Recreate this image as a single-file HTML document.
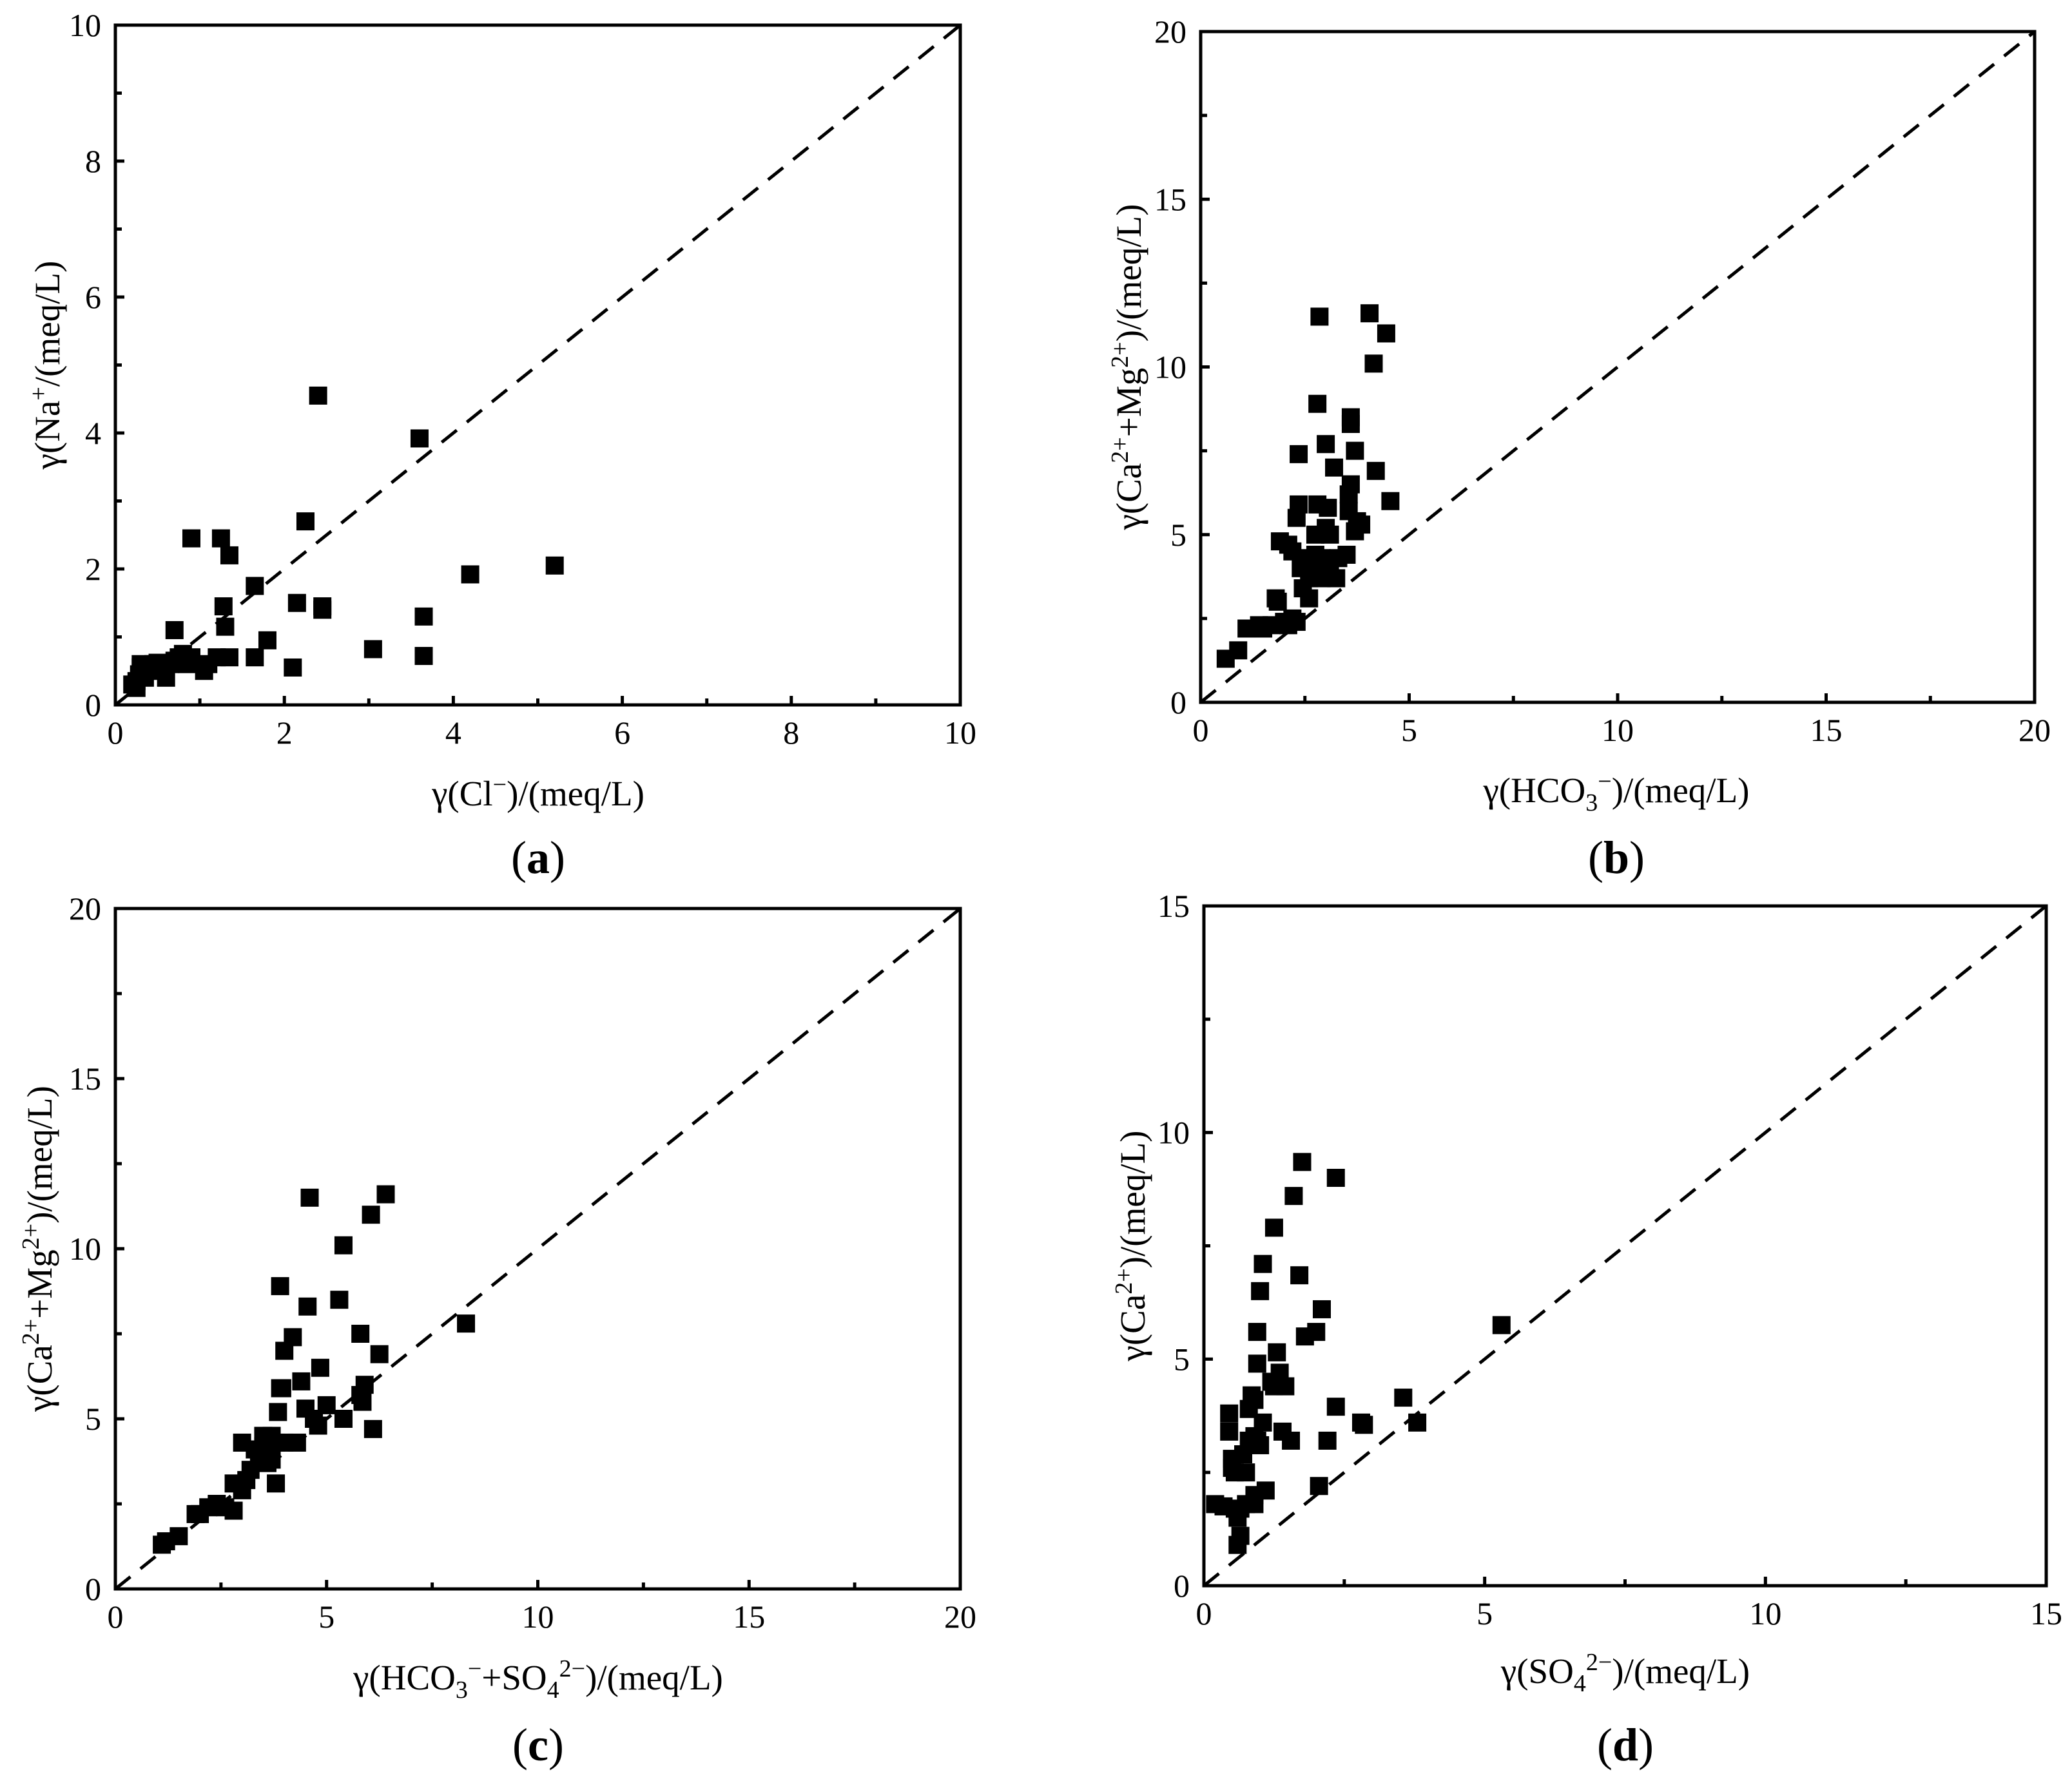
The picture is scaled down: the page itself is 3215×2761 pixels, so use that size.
<!DOCTYPE html>
<html><head><meta charset="utf-8"><style>
html,body{margin:0;padding:0;background:#fff;}
svg{display:block;font-family:"Liberation Serif",serif;}
</style></head><body>
<svg id="fig" width="3215" height="2761" viewBox="0 0 3215 2761" xmlns="http://www.w3.org/2000/svg">
<rect width="3215" height="2761" fill="#fff"/>
</svg>
<script>
const aX=[0.25,0.25,0.28,0.3,0.35,0.4,0.45,0.5,0.55,0.6,0.65,0.7,0.7,0.75,0.8,0.85,0.9,0.9,1.05,1.1,1.2,1.25,1.28,1.3,1.35,1.35,1.65,1.65,1.8,2.1,2.15,2.25,2.4,2.45,2.45,3.05,3.6,3.65,3.65,4.2,5.2,0.2,0.3,0.5,0.8];
const aY=[0.25,0.35,0.45,0.55,0.4,0.5,0.6,0.55,0.6,0.4,0.6,0.65,1.1,0.7,0.75,0.6,0.7,2.45,0.5,0.6,0.7,2.45,1.45,1.15,2.2,0.7,1.75,0.7,0.95,0.55,1.5,2.7,4.55,1.45,1.4,0.82,3.92,0.72,1.3,1.92,2.05,0.3,0.6,0.62,0.65];
const bX=[0.6,0.9,1.1,1.4,1.5,1.7,1.8,1.85,2.0,2.1,2.2,2.3,1.9,2.1,2.2,2.3,2.35,2.35,2.4,2.45,2.5,2.6,2.6,2.7,2.75,2.75,2.8,2.8,2.85,2.9,2.9,3.0,3.0,3.05,3.1,3.1,3.2,3.25,3.3,3.5,3.55,3.55,3.6,3.6,3.6,3.7,3.7,3.75,3.85,4.05,4.15,4.2,4.45,4.55];
const bY=[1.3,1.55,2.2,2.3,2.2,2.3,3.1,3.0,2.4,2.3,2.5,2.4,4.8,4.7,4.5,5.5,5.9,7.4,4.0,3.4,4.3,3.1,3.7,4.1,4.4,5.0,5.9,8.9,11.5,4.3,3.7,5.2,7.7,5.8,4.0,5.0,7.0,3.7,4.3,4.4,6.2,5.7,8.5,8.3,6.5,7.5,5.1,5.4,5.3,11.6,10.1,6.9,11.0,6.0];
const cX=[1.1,1.2,1.5,1.9,2.0,2.2,2.4,2.6,2.8,2.8,3.0,3.0,3.1,3.2,3.3,3.4,3.5,3.6,3.7,3.8,3.8,3.85,3.9,3.9,3.95,4.0,4.0,4.2,4.3,4.4,4.5,4.55,4.6,4.7,4.8,4.85,5.0,5.3,5.4,5.4,5.8,5.8,5.85,5.9,6.05,6.1,6.25,6.4,8.3,3.5,3.7];
const cY=[1.3,1.4,1.55,2.2,2.2,2.4,2.5,2.4,2.3,3.1,2.9,4.3,3.2,3.5,4.1,3.9,4.2,3.7,4.5,3.1,4.3,5.2,8.9,5.9,5.9,4.3,7.0,7.4,4.3,6.1,5.3,8.3,11.5,5.0,4.8,6.5,5.4,8.5,10.1,5.0,7.5,5.7,5.5,6.0,11.0,4.7,6.9,11.6,7.8,4.5,3.8];
const dX=[0.2,0.35,0.45,0.45,0.5,0.5,0.55,0.55,0.6,0.6,0.65,0.65,0.7,0.75,0.75,0.8,0.8,0.85,0.9,0.9,0.9,0.9,0.95,0.95,0.95,1.0,1.0,1.05,1.05,1.1,1.2,1.25,1.25,1.3,1.35,1.4,1.45,1.55,1.6,1.7,1.75,1.8,2.0,2.05,2.1,2.2,2.35,2.35,2.8,2.85,3.55,3.8,5.3];
const dY=[1.8,1.75,3.8,3.4,2.8,2.6,2.5,1.7,1.5,0.9,1.1,1.7,2.9,2.5,1.8,3.9,3.2,4.2,4.1,3.3,2.0,1.8,5.6,4.9,3.2,6.5,3.1,7.1,3.6,2.1,4.5,4.4,7.9,5.15,4.7,3.4,4.4,3.2,8.6,6.85,9.35,5.5,5.6,2.2,6.1,3.2,9.0,3.95,3.6,3.55,4.15,3.6,5.75];
const aTicks=[0,2,4,6,8,10];
const bTicks=[0,5,10,15,20];
const dTicks=[0,5,10,15];

const NS="http://www.w3.org/2000/svg";
const svg=document.getElementById('fig');
function mk(tag,attrs,parent){const e=document.createElementNS(NS,tag);for(const k in attrs)e.setAttribute(k,attrs[k]);(parent||svg).appendChild(e);return e;}

const panels=[
 {id:'a',L:179,T:39,R:1490,B:1094,max:10,ticks:aTicks,minor:1,xs:aX,ys:aY,
  xt:[['γ(Cl',''],['−','sup'],[')/(meq/L)','']],yt:[['γ(Na',''],['+','sup'],['/(meq/L)','']],
  xtX:835,xtY:1250,ytX:92,lblY:1355},
 {id:'b',L:1863,T:49,R:3157,B:1090,max:20,ticks:bTicks,minor:2.5,xs:bX,ys:bY,
  xt:[['γ(HCO',''],['3','sub'],['−','sup'],[')/(meq/L)','']],yt:[['γ(Ca',''],['2+','sup'],['+Mg',''],['2+','sup'],[')/(meq/L)','']],
  xtX:2508,xtY:1245,ytX:1770,lblY:1355},
 {id:'c',L:179,T:1410,R:1490,B:2466,max:20,ticks:bTicks,minor:2.5,xs:cX,ys:cY,
  xt:[['γ(HCO',''],['3','sub'],['−','sup'],['+SO',''],['4','sub'],['2−','sup'],[')/(meq/L)','']],yt:[['γ(Ca',''],['2+','sup'],['+Mg',''],['2+','sup'],[')/(meq/L)','']],
  xtX:835,xtY:2622,ytX:80,lblY:2732},
 {id:'d',L:1868,T:1406,R:3175,B:2461,max:15,ticks:dTicks,minor:2.5,xs:dX,ys:dY,
  xt:[['γ(SO',''],['4','sub'],['2−','sup'],[')/(meq/L)','']],yt:[['γ(Ca',''],['2+','sup'],[')/(meq/L)','']],
  xtX:2522,xtY:2612,ytX:1776,lblY:2732}
];

function richText(g,parts,attrs){
  const t=mk('text',attrs,g);
  let shift=0;
  for(const [s,k] of parts){
    const ts=mk('tspan',{},t);
    let target=0, fs=null;
    if(k==='sup'){target=-20;fs=38;} else if(k==='sub'){target=13;fs=38;}
    const dy=target-shift; shift=target;
    if(dy!==0) ts.setAttribute('dy',dy);
    if(fs) ts.setAttribute('font-size',fs);
    ts.textContent=s;
  }
  return t;
}

panels.forEach(p=>{
  const g=mk('g',{});
  
  
  const sx=v=>p.L+(v/p.max)*(p.R-p.L);
  const sy=v=>p.B-(v/p.max)*(p.B-p.T);
  const dl=mk('line',{x1:sx(0),y1:sy(0),x2:sx(p.max),y2:sy(p.max),stroke:'#000','stroke-width':5,'stroke-dasharray':'30 20'},g);
  
  
  const pg=mk('g',{},g);
  
  
  for(let i=0;i<p.xs.length;i++){
    const r=mk('rect',{x:sx(p.xs[i])-14,y:sy(p.ys[i])-14,width:28,height:28,fill:'#000'},pg);
    
    
  }
  const fr=mk('rect',{x:p.L,y:p.T,width:p.R-p.L,height:p.B-p.T,fill:'none',stroke:'#000','stroke-width':5},g);
  
  
  for(let v=0;v<=p.max+1e-9;v+=p.minor){
    const isMajor=p.ticks.some(t=>Math.abs(t-v)<1e-9);
    const len=isMajor?14:10;
    mk('line',{x1:sx(v),y1:p.B,x2:sx(v),y2:p.B-len,stroke:'#000','stroke-width':5},g);
    mk('line',{x1:p.L,y1:sy(v),x2:p.L+len,y2:sy(v),stroke:'#000','stroke-width':5},g);
  }
  p.ticks.forEach(t=>{
    const xl=mk('text',{x:sx(t),y:p.B+60,'font-size':50,'text-anchor':'middle'},g);
    
    
    xl.textContent=t;
    const yl=mk('text',{x:p.L-22,y:sy(t)+17,'font-size':50,'text-anchor':'end'},g);
    
    
    yl.textContent=t;
  });
  const xt=richText(g,p.xt,{x:p.xtX,y:p.xtY,'font-size':55,'text-anchor':'middle'});
  
  
  const cy=(p.T+p.B)/2;
  const yt=richText(g,p.yt,{x:0,y:0,'font-size':55,'text-anchor':'middle',transform:`translate(${p.ytX},${cy}) rotate(-90)`});
  
  
  const lb=mk('text',{x:p.xtX,y:p.lblY,'font-size':72,'text-anchor':'middle'},g);
  
  
  const t1=mk('tspan',{},lb);t1.textContent='(';
  const t2=mk('tspan',{'font-weight':'bold'},lb);t2.textContent=p.id;
  const t3=mk('tspan',{},lb);t3.textContent=')';
});
</script>
</body></html>
